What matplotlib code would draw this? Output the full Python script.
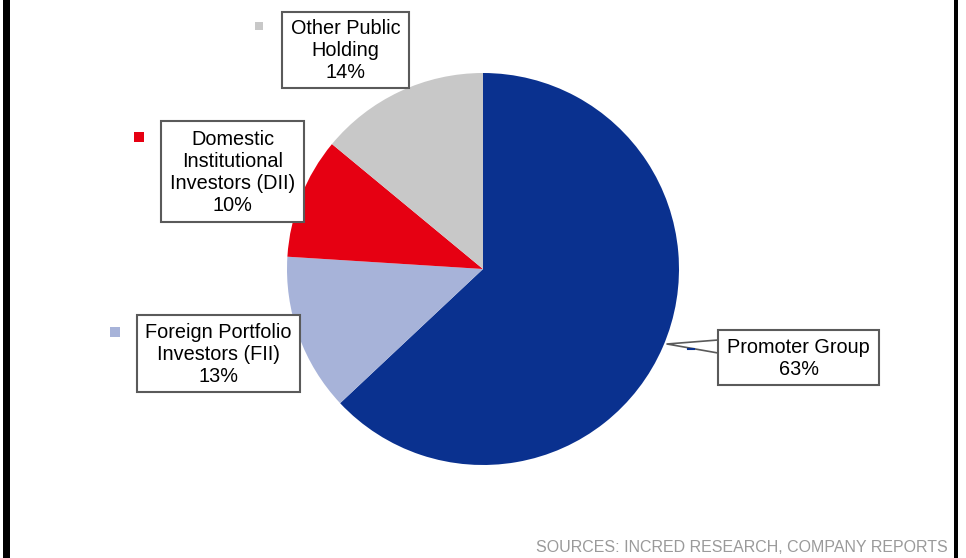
import matplotlib.pyplot as plt
from matplotlib.patches import Rectangle

plt.rcParams['font.family'] = ['Liberation Sans', 'DejaVu Sans']

# shareholding split, clockwise from 12 o'clock
labels = ['Promoter Group', 'Foreign Portfolio\nInvestors (FII)',
          'Domestic\nInstitutional\nInvestors (DII)', 'Other Public\nHolding']
shares = [63, 13, 10, 14]
colors = ['#0a318f', '#a7b3d9', '#e60012', '#c8c8c8']
source = 'SOURCES: INCRED RESEARCH, COMPANY REPORTS'

W, H = 966, 558
fig = plt.figure(figsize=(W / 100, H / 100), dpi=100)
ax = fig.add_axes([0, 0, 1, 1])

def fy(y):
    # image row -> axes y
    return H - y

ax.pie(shares, colors=colors, startangle=90, counterclock=False,
       center=(483, fy(269)), radius=196, wedgeprops=dict(linewidth=0))
ax.set_xlim(0, W)
ax.set_ylim(0, H)
ax.set_aspect('equal')
ax.axis('off')

# label boxes: (x0, y0, x1, y1) in image pixels, marker square (x, y, size)
boxes = [(718, 330, 879, 385), (137, 315, 300, 392),
         (161, 121, 304, 222), (282, 12, 409, 88)]
markers = [None, (110, 327, 10), (134, 132, 10), (255, 22, 8)]

for i, lab in enumerate(labels):
    x0, y0, x1, y1 = boxes[i]
    ax.add_patch(Rectangle((x0, fy(y1)), x1 - x0, y1 - y0, facecolor='white',
                           edgecolor='#5a5a5a', linewidth=1.5, zorder=3))
    txt = lab + '\n' + str(shares[i]) + '%'
    ax.text((x0 + x1) / 2, fy((y0 + y1) / 2 + 1), txt, ha='center', va='center',
            fontsize=14.3, linespacing=1.2, color='black', zorder=4)
    if markers[i] is not None:
        mx, my, ms = markers[i]
        ax.add_patch(Rectangle((mx, fy(my + ms)), ms, ms, facecolor=colors[i],
                               edgecolor='none', zorder=3))

# callout pointer for promoter group
ax.plot([718, 667, 718], [fy(340), fy(344), fy(353)], color='#5a5a5a', lw=1.2, zorder=2)
ax.plot([688, 694], [fy(349), fy(349)], color='#0a318f', lw=1.5, zorder=2)

ax.text(948, fy(547), source, ha='right', va='center', fontsize=11.5, color='#9a9a9a')

# frame bars on the sides
ax.add_patch(Rectangle((3, 0), 7, H, facecolor='black', edgecolor='none'))
ax.add_patch(Rectangle((954, 0), 4, H, facecolor='black', edgecolor='none'))

fig.savefig('out.png', dpi=100)
